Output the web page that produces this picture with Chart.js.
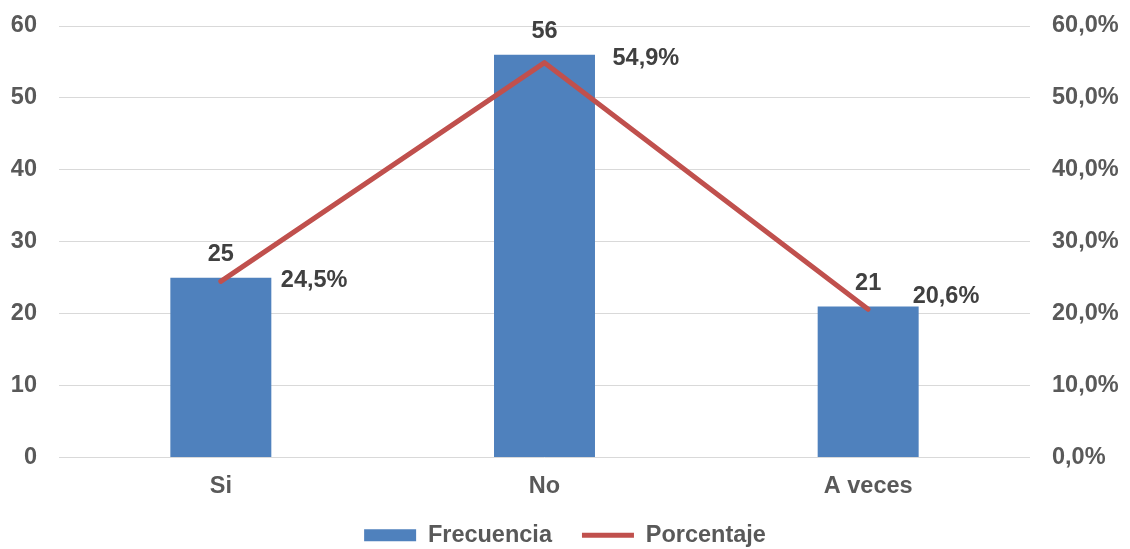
<!DOCTYPE html>
<html>
<head>
<meta charset="utf-8">
<script src="https://cdn.jsdelivr.net/npm/chart.js@4.4.1/dist/chart.umd.min.js"></script>
<style>
  html, body { margin: 0; padding: 0; background: #ffffff; }
  #wrap { width: 1130px; height: 549px; position: relative; }
</style>
</head>
<body>
<div id="wrap"><canvas id="c" width="1130" height="549"></canvas></div>
<script>
// Survey answers: count and share of respondents
const categories = ['Si', 'No', 'A veces'];
const frecuencia = [25, 56, 21];
const porcentaje = [24.5, 54.9, 20.6];
const countTicks = [0, 10, 20, 30, 40, 50, 60];
const percentTicks = [0, 10, 20, 30, 40, 50, 60];

const FONT_FAMILY = 'Arial, "Liberation Sans", Helvetica, sans-serif';
const FONT_SIZE = 23.5;
const TEXT_GREY = '#595959';
const LABEL_DARK = '#404040';
const BLUE = '#4F81BD';
const RED = '#C0504D';

// Placement of the percentage labels relative to their line point (dx, dy of baseline)
const pctLabelShift = [[60, 6], [68, 2.5], [44.5, -6.7]];

const fmtPct = v => v.toFixed(1).replace('.', ',') + '%';

const valueLabels = {
  id: 'valueLabels',
  afterDatasetsDraw(chart) {
    const ctx = chart.ctx;
    ctx.save();
    ctx.font = 'bold ' + FONT_SIZE + 'px ' + FONT_FAMILY;
    ctx.fillStyle = LABEL_DARK;
    ctx.textBaseline = 'alphabetic';
    const bars = chart.getDatasetMeta(0).data;
    ctx.textAlign = 'center';
    bars.forEach((bar, i) => {
      ctx.fillText(String(frecuencia[i]), bar.x, bar.y - 16.5);
    });
    const pts = chart.getDatasetMeta(1).data;
    ctx.textAlign = 'left';
    pts.forEach((pt, i) => {
      const s = pctLabelShift[i];
      ctx.fillText(fmtPct(porcentaje[i]), pt.x + s[0], pt.y + s[1]);
    });
    ctx.restore();
  }
};

const font = { family: FONT_FAMILY, size: FONT_SIZE, weight: 'bold' };

// Value axes keep a fixed width and do not reserve extra space above/below the plot
const fixVerticalAxis = width => axis => {
  axis.width = width;
  axis.paddingTop = 0;
  axis.paddingBottom = 0;
};

new Chart(document.getElementById('c'), {
  type: 'bar',
  data: {
    labels: categories,
    datasets: [
      {
        label: 'Frecuencia',
        data: frecuencia,
        backgroundColor: BLUE,
        borderWidth: 0,
        barPercentage: 0.312,
        categoryPercentage: 1,
        yAxisID: 'y',
        order: 1,
        pointStyle: 'rect'
      },
      {
        type: 'line',
        label: 'Porcentaje',
        data: porcentaje,
        borderColor: RED,
        backgroundColor: RED,
        borderWidth: 5,
        borderCapStyle: 'round',
        borderJoinStyle: 'round',
        pointRadius: 0,
        pointHoverRadius: 0,
        tension: 0,
        fill: false,
        yAxisID: 'y1',
        order: 0,
        pointStyle: 'line'
      }
    ]
  },
  options: {
    responsive: false,
    animation: false,
    devicePixelRatio: 1,
    layout: { padding: { top: 26, left: 0, right: 0, bottom: -8 } },
    plugins: {
      tooltip: { enabled: false },
      legend: {
        position: 'bottom',
        labels: {
          usePointStyle: true,
          pointStyleWidth: 52,
          boxHeight: 12,
          color: TEXT_GREY,
          font: font,
          padding: 30,
          sort: (a, b) => a.datasetIndex - b.datasetIndex
        }
      }
    },
    scales: {
      x: {
        offset: true,
        grid: { display: false },
        border: { display: false },
        ticks: { color: TEXT_GREY, font: font, padding: 7 },
        afterFit(axis) { axis.height = 36; }
      },
      y: {
        position: 'left',
        min: 0,
        max: 60,
        afterBuildTicks(axis) { axis.ticks = countTicks.map(v => ({ value: v })); },
        grid: { color: '#D9D9D9', lineWidth: 1, drawTicks: false },
        border: { display: false },
        ticks: { color: TEXT_GREY, font: font, padding: 22 },
        afterFit: fixVerticalAxis(59)
      },
      y1: {
        position: 'right',
        min: 0,
        max: 60,
        afterBuildTicks(axis) { axis.ticks = percentTicks.map(v => ({ value: v })); },
        grid: { display: false, drawTicks: false },
        border: { display: false },
        ticks: { color: TEXT_GREY, font: font, padding: 22, callback: v => fmtPct(v) },
        afterFit: fixVerticalAxis(100)
      }
    }
  },
  plugins: [valueLabels]
});
</script>
</body>
</html>
